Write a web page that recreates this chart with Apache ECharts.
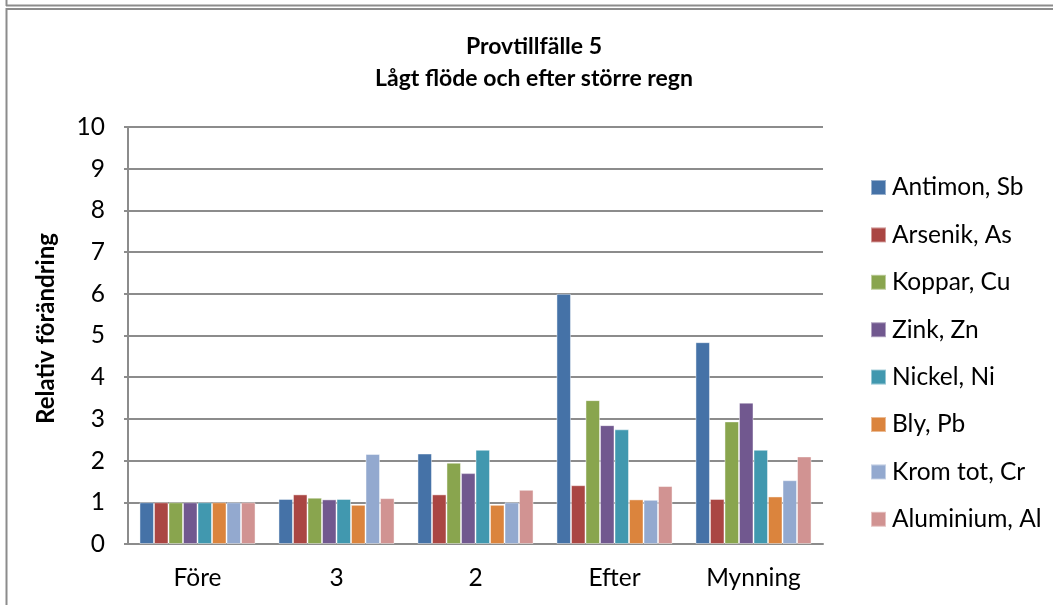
<!DOCTYPE html>
<html>
<head>
<meta charset="utf-8">
<script src="https://cdn.jsdelivr.net/npm/echarts@6/dist/echarts.min.js"></script>
<style>
  html, body { margin: 0; padding: 0; background: #ffffff; }
  #chart { width: 1053px; height: 605px; }
</style>
</head>
<body>
<div id="chart"></div>
<script>
// Sampling points along the stream
const categories = ['Före', '3', '2', 'Efter', 'Mynning'];

// Relative change per metal (Före = 1)
const antimon   = [1.00, 1.08, 2.17, 6.00, 4.84];
const arsenik   = [1.00, 1.19, 1.19, 1.41, 1.08];
const koppar    = [1.00, 1.11, 1.95, 3.45, 2.94];
const zink      = [1.00, 1.07, 1.70, 2.85, 3.39];
const nickel    = [1.00, 1.08, 2.26, 2.75, 2.26];
const bly       = [1.00, 0.94, 0.94, 1.07, 1.14];
const krom      = [1.00, 2.16, 1.00, 1.06, 1.53];
const aluminium = [1.00, 1.10, 1.30, 1.39, 2.10];

const seriesNames = ['Antimon, Sb', 'Arsenik, As', 'Koppar, Cu', 'Zink, Zn',
                     'Nickel, Ni', 'Bly, Pb', 'Krom tot, Cr', 'Aluminium, Al'];
const seriesValues = [antimon, arsenik, koppar, zink, nickel, bly, krom, aluminium];
const seriesColors = ['#4572A7', '#AA4643', '#89A54E', '#71588F',
                      '#4198AF', '#DB843D', '#93A9CF', '#D19392'];

const yTicks = [0, 1, 2, 3, 4, 5, 6, 7, 8, 9, 10];

const FONT = 'Lato, "Open Sans", sans-serif';
const frameColor = '#8c8c8c';

const chart = echarts.init(document.getElementById('chart'), null, { renderer: 'canvas' });

chart.setOption({
  backgroundColor: '#ffffff',
  animation: false,
  title: {
    text: 'Provtillfälle 5\nLågt flöde och efter större regn',
    left: 529,
    top: 26,
    textAlign: 'center',
    textStyle: {
      fontFamily: FONT,
      fontWeight: 'bold',
      fontSize: 23,
      lineHeight: 32,
      color: '#000000'
    }
  },
  legend: {
    orient: 'vertical',
    left: 865,
    top: 170,
    itemWidth: 15,
    itemHeight: 15,
    itemGap: 22.4,
    icon: 'rect',
    data: seriesNames,
    textStyle: {
      fontFamily: FONT,
      fontSize: 24.5,
      lineHeight: 24,
      color: '#000000',
      padding: [0, 0, 0, 1]
    }
  },
  grid: {
    left: 128,
    right: 230,
    top: 127,
    bottom: 61,
    containLabel: false
  },
  xAxis: {
    type: 'category',
    data: categories,
    axisLine: { show: true, lineStyle: { color: frameColor, width: 2 } },
    axisTick: { show: false },
    axisLabel: {
      margin: 22,
      fontFamily: FONT,
      fontSize: 24.5,
      color: '#000000'
    }
  },
  yAxis: {
    type: 'value',
    min: yTicks[0],
    max: yTicks[yTicks.length - 1],
    interval: 1,
    name: 'Relativ förändring',
    nameLocation: 'middle',
    nameRotate: 90,
    nameGap: 70,
    nameTextStyle: {
      fontFamily: FONT,
      fontWeight: 'bold',
      fontSize: 24,
      color: '#000000',
      padding: [0, 0, 0, 14]
    },
    axisLine: { show: true, lineStyle: { color: frameColor, width: 2 } },
    axisTick: { show: true, length: 4, lineStyle: { color: frameColor, width: 2 } },
    axisLabel: {
      margin: 23,
      fontFamily: FONT,
      fontSize: 24.5,
      color: '#000000'
    },
    splitLine: { show: true, lineStyle: { color: frameColor, width: 2 } }
  },
  series: seriesValues.map((vals, i) => ({
    name: seriesNames[i],
    type: 'bar',
    data: vals,
    barGap: '0%',
    barCategoryGap: '16.5%',
    itemStyle: {
      color: seriesColors[i],
      borderColor: 'rgba(255,255,255,0.45)',
      borderWidth: 1
    }
  })),
  graphic: [
    // sheet edges around the chart
    { type: 'line', shape: { x1: 6.5, y1: 0, x2: 6.5, y2: 6 }, style: { stroke: frameColor, lineWidth: 2 } },
    { type: 'line', shape: { x1: 6, y1: 5.5, x2: 1053, y2: 5.5 }, style: { stroke: frameColor, lineWidth: 2 } },
    { type: 'line', shape: { x1: 6, y1: 9, x2: 1053, y2: 9 }, style: { stroke: frameColor, lineWidth: 2 } },
    { type: 'line', shape: { x1: 6.5, y1: 8, x2: 6.5, y2: 605 }, style: { stroke: frameColor, lineWidth: 2 } }
  ]
});
</script>
</body>
</html>
